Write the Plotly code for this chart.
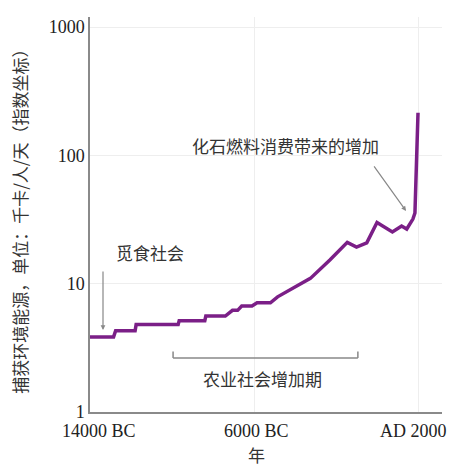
import plotly.graph_objects as go

# Data (year: negative = BC, positive = AD; value: kcal/person/day)
years = [-14000, -12850, -12750, -11800, -11750, -9700, -9650, -8400, -8350,
         -7400, -7050, -6800, -6600, -6100, -5850, -5200, -4850, -4250,
         -3250, -2300, -1450, -1000, -500, 0, 750, 1200, 1450, 1750, 1850, 2000]
energy = [3.85, 3.85, 4.3, 4.3, 4.8, 4.8, 5.15, 5.15, 5.6,
          5.6, 6.2, 6.2, 6.7, 6.7, 7.1, 7.1, 7.9, 8.9,
          11.0, 15.3, 21.0, 19.3, 20.8, 30.0, 25.3, 28.2, 26.7, 31.9, 35.6, 215]

x_tickvals = [-14000, -6000, 2000]
x_ticktext = ["14000 BC", "6000 BC", "AD 2000"]
y_tickvals = [1, 10, 100, 1000]
y_ticktext = ["1", "10", "100", "1000"]

cjk = "Noto Sans CJK SC"
serif = "Liberation Serif"

fig = go.Figure()
fig.add_trace(go.Scatter(
    x=years, y=energy, mode="lines",
    line=dict(color="#7b1f87", width=3.5),
    hoverinfo="skip", showlegend=False,
))

fig.update_layout(
    width=449, height=466,
    margin=dict(l=90, r=7, t=17, b=54),
    plot_bgcolor="white", paper_bgcolor="white",
    showlegend=False,
    xaxis=dict(
        range=[-14000, 3170],
        tickvals=x_tickvals, showticklabels=False,
        automargin=False,
        showgrid=True, gridcolor="#eeeeee", gridwidth=1,
        showline=True, linecolor="#8a8a8a", linewidth=1.5,
        zeroline=False, ticks="",
    ),
    yaxis=dict(
        type="log", range=[0, 3.079],
        tickvals=y_tickvals, ticktext=y_ticktext,
        tickfont=dict(family=serif, size=18, color="#222"),
        automargin=False,
        showgrid=True, gridcolor="#eeeeee", gridwidth=1,
        showline=True, linecolor="#8a8a8a", linewidth=1.5,
        zeroline=False, ticks="",
    ),
)

annots = [
    dict(text="捕获环境能源，单位：千卡/人/天（指数坐标）", xref="paper", yref="paper",
         x=-0.199, y=0.494, textangle=-90, showarrow=False,
         font=dict(family=cjk, size=17, color="#333"), xanchor="center", yanchor="middle"),
    dict(text="年", xref="paper", yref="paper", x=0.474, y=-0.108, showarrow=False,
         font=dict(family=cjk, size=17, color="#333"), xanchor="center", yanchor="middle"),
    dict(text="觅食社会", x=-11073, y=1.247, showarrow=False,
         font=dict(family=cjk, size=17, color="#333"), xanchor="center", yanchor="middle"),
    dict(text="化石燃料消费带来的增加", x=-4488, y=2.081, showarrow=False,
         font=dict(family=cjk, size=17, color="#333"), xanchor="center", yanchor="middle"),
    dict(text="农业社会增加期", x=-5610, y=0.265, showarrow=False,
         font=dict(family=cjk, size=17, color="#333"), xanchor="center", yanchor="middle"),
    dict(text="", x=-13366, y=0.639, showarrow=True, ax=0, ay=-60,
         arrowhead=2, arrowsize=0.8, arrowwidth=1.2, arrowcolor="#888"),
    dict(text="", x=1415, y=1.567, showarrow=True, ax=-33, ay=-46,
         arrowhead=2, arrowsize=0.8, arrowwidth=1.2, arrowcolor="#888"),
]

# x tick labels drawn as annotations (slight per-label offsets as in the original)
label_shifts = [9, 2, -5]
for val, txt, sh in zip(x_tickvals, x_ticktext, label_shifts):
    annots.append(dict(text=txt, x=val, xref="x", y=-0.048, yref="paper",
                       xshift=sh, showarrow=False, xanchor="center", yanchor="middle",
                       font=dict(family=serif, size=18, color="#222")))

fig.update_layout(annotations=annots)

# bracket for agricultural period (paper coordinates)
bracket_style = dict(color="#888", width=1.5)
fig.add_shape(type="line", xref="paper", yref="paper",
              x0=0.236, x1=0.761, y0=0.137, y1=0.137, line=bracket_style)
fig.add_shape(type="line", xref="paper", yref="paper",
              x0=0.236, x1=0.236, y0=0.137, y1=0.153, line=bracket_style)
fig.add_shape(type="line", xref="paper", yref="paper",
              x0=0.761, x1=0.761, y0=0.137, y1=0.153, line=bracket_style)

fig.write_html("out.html",
               config={"displayModeBar": False},
               post_script="document.body.style.margin='0';document.body.style.overflow='hidden';")
